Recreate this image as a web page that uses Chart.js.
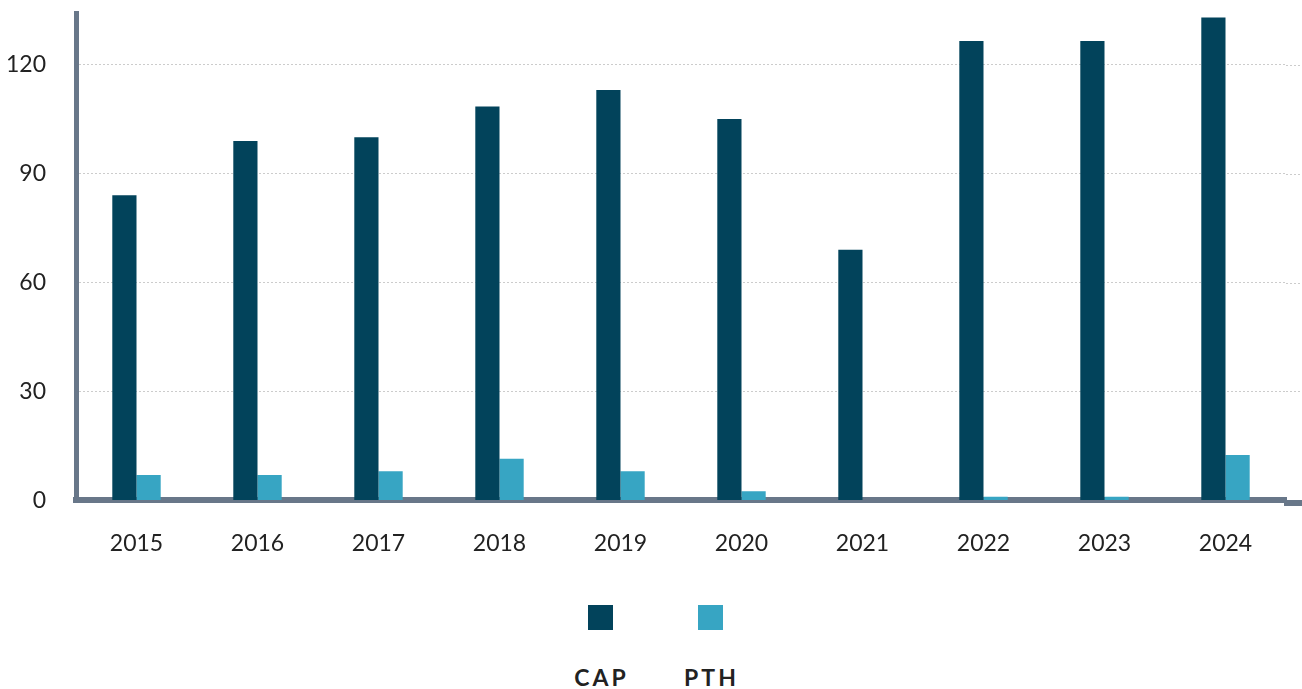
<!DOCTYPE html>
<html>
<head>
<meta charset="utf-8">
<script src="https://cdn.jsdelivr.net/npm/chart.js@4.4.1/dist/chart.umd.min.js"></script>
<style>
  html, body { margin: 0; padding: 0; background: #fff; overflow: hidden; }
  #wrap { position: relative; width: 1302px; height: 689px; overflow: hidden; }
  #c { position: absolute; left: 0; top: -30px; }
  .lg-box { position: absolute; top: 605px; width: 25px; height: 25px; }
  .lg-text { position: absolute; top: 663px; width: 100px; text-align: center;
    font: bold 23px Lato, sans-serif; letter-spacing: 3px; color: #222; }
</style>
</head>
<body>
<div id="wrap">
  <canvas id="c" width="1302" height="610"></canvas>
  <div id="legend"></div>
</div>
<script>
const years = ['2015', '2016', '2017', '2018', '2019', '2020', '2021', '2022', '2023', '2024']
const capValues = [84, 99, 100, 108.5, 113, 105, 69, 126.5, 126.5, 133]
const pthValues = [7, 7, 8, 11.5, 8, 2.5, 0, 1, 1, 12.5]
const seriesNames = ['CAP', 'PTH']
const seriesColors = ['#02435b', '#37a5c3']
const yTicks = [0, 30, 60, 90, 120]

const axisColor = '#687789'
const gridColor = '#cccccc'
const textColor = '#222'

const canvas = document.getElementById('c')

// grid lines and x axis run on to the right edge of the canvas
const extendRight = {
  id: 'extendRight',
  afterDraw(chart) {
    const c2 = chart.ctx
    const area = chart.chartArea
    const yScale = chart.scales.y
    const x0 = area.right
    const x1 = chart.width
    c2.save()
    c2.fillStyle = gridColor
    yTicks.forEach((v) => {
      if (v === 0) return
      const py = Math.round(yScale.getPixelForValue(v))
      for (let px = Math.ceil(x0); px < x1; px += 4) {
        c2.fillRect(px, py, 2, 1)
      }
    })
    c2.fillStyle = axisColor
    c2.fillRect(x0 - 2, Math.round(area.bottom), x1 - x0 + 2, 6)
    c2.restore()
  },
}

new Chart(canvas, {
  type: 'bar',
  data: {
    labels: years,
    datasets: [
      {
        label: seriesNames[0],
        data: capValues,
        backgroundColor: seriesColors[0],
        categoryPercentage: 0.4,
        barPercentage: 1.0,
      },
      {
        label: seriesNames[1],
        data: pthValues,
        backgroundColor: seriesColors[1],
        categoryPercentage: 0.4,
        barPercentage: 1.0,
      },
    ],
  },
  options: {
    responsive: false,
    animation: false,
    devicePixelRatio: 1,
    layout: { padding: { top: 10, right: 16, bottom: 2, left: 0 } },
    scales: {
      x: {
        grid: { display: false },
        border: { display: true, color: axisColor, width: 6 },
        ticks: {
          color: textColor,
          padding: 21,
          font: { family: 'Lato, sans-serif', size: 23 },
        },
      },
      y: {
        min: 0,
        max: 134,
        afterBuildTicks: (scale) => {
          scale.ticks = yTicks.map((v) => ({ value: v }))
        },
        afterFit: (scale) => {
          scale.width = 76
        },
        grid: {
          color: (c) => (c.tick && c.tick.value === 0 ? 'rgba(0,0,0,0)' : gridColor),
          lineWidth: 1,
          drawTicks: false,
        },
        border: { display: true, color: axisColor, width: 5, dash: [2, 2] },
        ticks: {
          color: textColor,
          padding: 30,
          font: { family: 'Lato, sans-serif', size: 23 },
        },
      },
    },
    plugins: {
      legend: { display: false },
      tooltip: { enabled: false },
    },
  },
  plugins: [extendRight],
})

// legend: boxes on one row, labels below
const legend = document.getElementById('legend')
const legendX = [588, 698]
seriesNames.forEach((name, i) => {
  const box = document.createElement('div')
  box.className = 'lg-box'
  box.style.left = legendX[i] + 'px'
  box.style.background = seriesColors[i]
  legend.appendChild(box)
  const txt = document.createElement('div')
  txt.className = 'lg-text'
  txt.style.left = legendX[i] + 12.5 - 50 + 1 + 'px'
  txt.textContent = name
  legend.appendChild(txt)
})
</script>
</body>
</html>
